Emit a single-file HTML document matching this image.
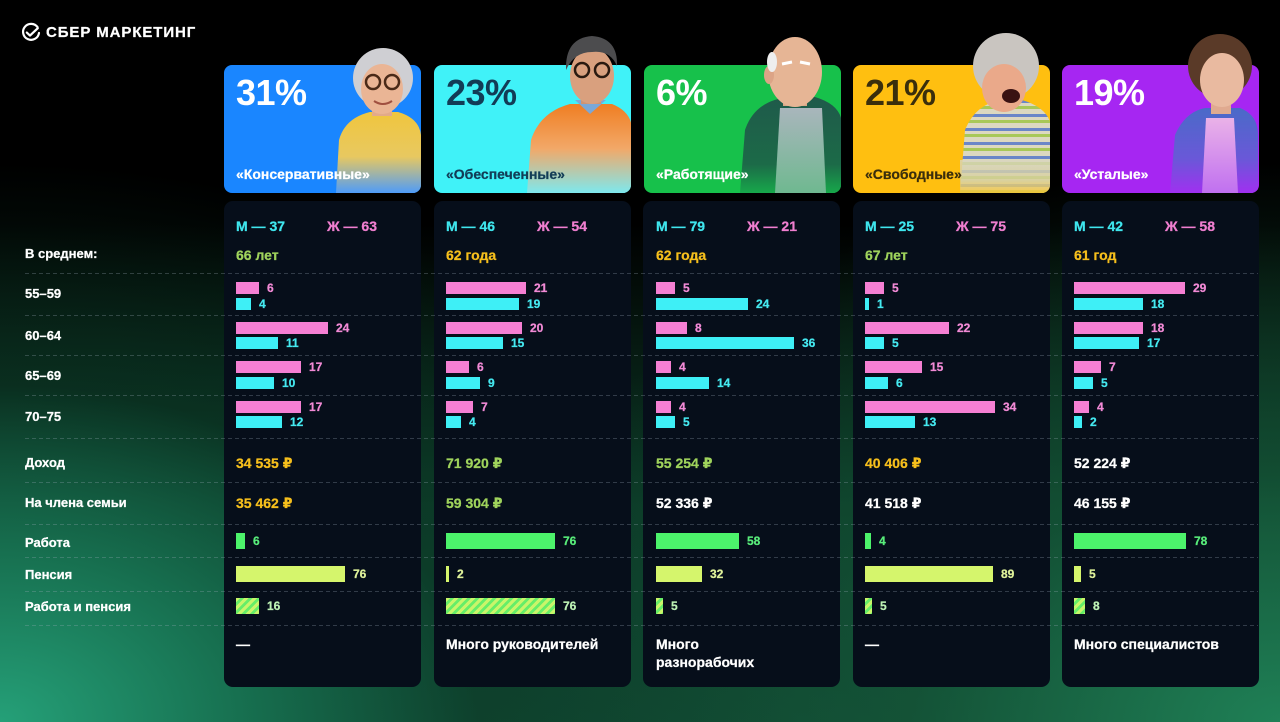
<!DOCTYPE html>
<html lang="ru"><head><meta charset="utf-8">
<style>
*{margin:0;padding:0;box-sizing:border-box}
html,body{width:1280px;height:722px;overflow:hidden}
body{position:relative;font-family:"Liberation Sans","DejaVu Sans",sans-serif;
background:
radial-gradient(ellipse 800px 560px at 0% 100%, #25a078 0%, #177050 30%, rgba(12,60,40,0.5) 60%, rgba(0,0,0,0) 100%),
radial-gradient(ellipse 820px 560px at 100% 100%, #1f8056 0%, rgba(22,90,58,0.65) 45%, rgba(0,0,0,0) 100%),
linear-gradient(to bottom, #000 0%, #000 31%, #05160f 46%, #0b3826 70%, #0f4430 100%);}
.t{position:absolute;font-weight:bold;white-space:nowrap;-webkit-text-stroke:0.25px currentColor}
.s14{font-size:14px;line-height:20px}
.s13{font-size:13px;line-height:18px;color:#fff}
.s12{font-size:12px;line-height:14px}
.dc{position:absolute;top:201px;width:197px;height:486px;background:#060e1a;border-radius:9px;}
.hc{position:absolute;top:65px;width:197px;height:128px;border-radius:8px;}
.b{position:absolute;height:12px}
.p{background:#f57fd3}.c{background:#3eeff6}
.pt{color:#f28ad6}.ct{color:#45e9f0}
.w{position:absolute;height:16px;background:#4cf36b;top:533px}
.pn{position:absolute;height:16px;background:#d5f56c;top:566px}
.cb{position:absolute;height:16px;top:598px;background:repeating-linear-gradient(135deg,#c9f56a 0 3px,#66ee68 3px 6px)}
.wt{color:#58ec7a}.pnt{color:#dff29a}.cbt{color:#bdf2b4}
.dl{position:absolute;left:25px;width:1233px;height:1px;background:repeating-linear-gradient(90deg,rgba(160,175,190,0.28) 0 4px,transparent 4px 7px);z-index:2}
.pc{position:absolute;top:73px;font-size:36px;line-height:40px;font-weight:bold;letter-spacing:-0.5px;z-index:4}
.nm{position:absolute;top:164px;font-size:14px;line-height:20px;font-weight:bold;z-index:4;-webkit-text-stroke:0.25px currentColor}
.or{color:#f6bf1c}.gr{color:#9fd35c}.wh{color:#fff}
.m{color:#3fe6ee}.f{color:#f07fd0}
</style></head><body>

<!-- logo -->
<svg style="position:absolute;left:20px;top:22px" width="22" height="22" viewBox="0 0 22 22">
<path d="M17.6 5.2 A8 8 0 1 0 19 11" fill="none" stroke="#fff" stroke-width="2.2" stroke-linecap="round"/>
<path d="M6.8 10.6 L10 13.6 L17.8 6.2" fill="none" stroke="#fff" stroke-width="2.2" stroke-linecap="round" stroke-linejoin="round"/>
</svg>
<div class="t" style="left:46px;top:23px;font-size:15px;line-height:20px;letter-spacing:0.9px;color:#fff">СБЕР МАРКЕТИНГ</div>

<!-- header cards -->
<div class="hc" style="left:224px;background:#1a86ff"></div>
<div class="hc" style="left:434px;background:#40f2f8"></div>
<div class="hc" style="left:644px;background:#17c14b"></div>
<div class="hc" style="left:853px;background:#ffbf10"></div>
<div class="hc" style="left:1062px;background:#a626f2"></div>

<!-- figures -->
<svg style="position:absolute;left:0;top:0;z-index:3" width="1280" height="722" viewBox="0 0 1280 722">
<defs>
<clipPath id="k1"><rect x="224" y="0" width="197" height="193" rx="8"/></clipPath>
<clipPath id="k2"><rect x="434" y="0" width="197" height="193" rx="8"/></clipPath>
<clipPath id="k3"><rect x="644" y="0" width="197" height="193" rx="8"/></clipPath>
<clipPath id="k4"><rect x="853" y="0" width="197" height="193" rx="8"/></clipPath>
<clipPath id="k5"><rect x="1062" y="0" width="197" height="193" rx="8"/></clipPath>
<linearGradient id="g1" x1="0" y1="0" x2="0" y2="1"><stop offset="0" stop-color="#f0c63e"/><stop offset="0.55" stop-color="#e8c860"/><stop offset="1" stop-color="#4f9cf8"/></linearGradient>
<linearGradient id="g2" x1="0" y1="0" x2="0" y2="1"><stop offset="0" stop-color="#f07e22"/><stop offset="0.5" stop-color="#f2a868"/><stop offset="1" stop-color="#7ee8ee"/></linearGradient>
<linearGradient id="g3" x1="0" y1="0" x2="0" y2="1"><stop offset="0" stop-color="#1f5a4a"/><stop offset="0.7" stop-color="#1c6a48"/><stop offset="1" stop-color="#17a84a"/></linearGradient>
<linearGradient id="g3s" x1="0" y1="0" x2="0" y2="1"><stop offset="0" stop-color="#a9b6bc"/><stop offset="1" stop-color="#6fb890"/></linearGradient>
<linearGradient id="g4" x1="0" y1="0" x2="0" y2="1"><stop offset="0" stop-color="#d9d6c0"/><stop offset="0.6" stop-color="#d8d09a"/><stop offset="1" stop-color="#fcc630"/></linearGradient>
<linearGradient id="g5" x1="0" y1="0" x2="0" y2="1"><stop offset="0" stop-color="#4a6ac8"/><stop offset="0.6" stop-color="#6a58d8"/><stop offset="1" stop-color="#a030f0"/></linearGradient>
<linearGradient id="g5s" x1="0" y1="0" x2="0" y2="1"><stop offset="0" stop-color="#eab2e8"/><stop offset="1" stop-color="#c070f0"/></linearGradient>
<pattern id="st4" x="0" y="0" width="20" height="14" patternUnits="userSpaceOnUse">
<rect width="20" height="14" fill="#dcd8c0"/><rect y="2" width="20" height="3" fill="#6a86c8"/><rect y="8" width="20" height="3" fill="#a8c858"/></pattern>
</defs>
<g clip-path="url(#k1)">
<path d="M336 193 L339 140 Q345 118 370 112 L398 112 Q419 118 421 135 L421 193 Z" fill="url(#g1)"/>
<rect x="372" y="102" width="20" height="14" fill="#e2aa8a"/>
<circle cx="383" cy="78" r="30" fill="#cfcfd3"/>
<ellipse cx="382" cy="89" rx="21" ry="25" fill="#eab595"/>
<circle cx="373" cy="82" r="7" fill="none" stroke="#4a2a18" stroke-width="2.5"/>
<circle cx="392" cy="82" r="7" fill="none" stroke="#4a2a18" stroke-width="2.5"/>
<path d="M374 101 Q383 107 392 101" stroke="#a05040" stroke-width="2" fill="none"/>
</g>
<g clip-path="url(#k2)">
<path d="M527 193 L531 140 Q540 112 570 104 L612 104 Q632 112 632 130 L632 193 Z" fill="url(#g2)"/>
<path d="M575 100 L590 114 L606 100 Z" fill="#7aa8d8"/>
<rect x="581" y="92" width="20" height="12" fill="#cf9474"/>
<ellipse cx="592" cy="76" rx="22" ry="28" fill="#d9a07e"/>
<path d="M566 70 Q565 38 592 36 Q618 38 617 66 Q610 50 592 52 Q574 52 566 70 Z" fill="#4c4c4e"/>
<circle cx="582" cy="70" r="7" fill="none" stroke="#2a1a10" stroke-width="2.5"/>
<circle cx="602" cy="70" r="7" fill="none" stroke="#2a1a10" stroke-width="2.5"/>
</g>
<g clip-path="url(#k3)">
<path d="M740 193 L745 130 Q755 100 790 97 L815 97 Q842 105 842 125 L842 193 Z" fill="url(#g3)"/>
<path d="M775 193 L780 108 L822 108 L826 193 Z" fill="url(#g3s)"/>
<rect x="783" y="92" width="24" height="14" fill="#d8a888"/>
<ellipse cx="795" cy="72" rx="27" ry="35" fill="#e6b595"/>
<ellipse cx="769" cy="75" rx="5" ry="9" fill="#dca486"/>
<ellipse cx="772" cy="62" rx="5" ry="10" fill="#eeeeee"/>
<path d="M782 64 L792 62 M800 62 L810 64" stroke="#fff" stroke-width="3"/>
</g>
<g clip-path="url(#k4)">
<path d="M960 193 L965 130 Q975 105 1000 100 L1022 100 Q1050 108 1052 130 L1052 193 Z" fill="url(#st4)"/>
<rect x="960" y="160" width="92" height="33" fill="url(#g4)" opacity="0.8"/>
<rect x="993" y="96" width="22" height="12" fill="#e0a080"/>
<circle cx="1006" cy="66" r="33" fill="#c9c5c0"/>
<ellipse cx="1004" cy="88" rx="22" ry="24" fill="#eaa98a"/>
<ellipse cx="1011" cy="96" rx="9" ry="7" fill="#3a1212"/>
</g>
<g clip-path="url(#k5)">
<path d="M1170 193 L1175 135 Q1185 112 1205 108 L1240 108 Q1258 115 1258 135 L1258 193 Z" fill="url(#g5)"/>
<path d="M1202 193 L1206 118 L1234 118 L1238 193 Z" fill="url(#g5s)"/>
<rect x="1211" y="98" width="20" height="16" fill="#e0aa90"/>
<ellipse cx="1220" cy="66" rx="32" ry="32" fill="#5a3a28"/>
<ellipse cx="1222" cy="80" rx="22" ry="27" fill="#e9baa0"/>
</g>
</svg>

<div class="pc wh" style="left:236px">31%</div>
<div class="nm wh" style="left:236px">«Консервативные»</div>
<div class="pc" style="left:446px;color:#123c56">23%</div>
<div class="nm" style="left:446px;color:#123c56">«Обеспеченные»</div>
<div class="pc wh" style="left:656px">6%</div>
<div class="nm wh" style="left:656px">«Работящие»</div>
<div class="pc" style="left:865px;color:#3a2e0c">21%</div>
<div class="nm" style="left:865px;color:#3a2e0c">«Свободные»</div>
<div class="pc wh" style="left:1074px">19%</div>
<div class="nm wh" style="left:1074px">«Усталые»</div>

<!-- data cards -->
<div class="dc" style="left:224px"></div>
<div class="dc" style="left:434px"></div>
<div class="dc" style="left:643px"></div>
<div class="dc" style="left:853px"></div>
<div class="dc" style="left:1062px"></div>

<!-- dashed lines -->
<div class="dl" style="top:273px"></div>
<div class="dl" style="top:315px"></div>
<div class="dl" style="top:355px"></div>
<div class="dl" style="top:395px"></div>
<div class="dl" style="top:438px"></div>
<div class="dl" style="top:482px"></div>
<div class="dl" style="top:524px"></div>
<div class="dl" style="top:557px"></div>
<div class="dl" style="top:591px"></div>
<div class="dl" style="top:625px"></div>

<!-- left labels -->
<div class="t s13" style="left:25px;top:245px">В среднем:</div>
<div class="t s13" style="left:25px;top:285px">55–59</div>
<div class="t s13" style="left:25px;top:327px">60–64</div>
<div class="t s13" style="left:25px;top:367px">65–69</div>
<div class="t s13" style="left:25px;top:408px">70–75</div>
<div class="t s13" style="left:25px;top:454px">Доход</div>
<div class="t s13" style="left:25px;top:494px">На члена семьи</div>
<div class="t s13" style="left:25px;top:534px">Работа</div>
<div class="t s13" style="left:25px;top:566px">Пенсия</div>
<div class="t s13" style="left:25px;top:598px">Работа и пенсия</div>

<!-- Card 1 -->
<div class="t s14 m" style="left:236px;top:216px">М — 37</div>
<div class="t s14 f" style="left:327px;top:216px">Ж — 63</div>
<div class="t s14 gr" style="left:236px;top:245px">66 лет</div>
<div class="b p" style="left:236px;top:282px;width:23px"></div><div class="t s12 pt" style="left:267px;top:281px">6</div>
<div class="b c" style="left:236px;top:298px;width:15px"></div><div class="t s12 ct" style="left:259px;top:297px">4</div>
<div class="b p" style="left:236px;top:322px;width:92px"></div><div class="t s12 pt" style="left:336px;top:321px">24</div>
<div class="b c" style="left:236px;top:337px;width:42px"></div><div class="t s12 ct" style="left:286px;top:336px">11</div>
<div class="b p" style="left:236px;top:361px;width:65px"></div><div class="t s12 pt" style="left:309px;top:360px">17</div>
<div class="b c" style="left:236px;top:377px;width:38px"></div><div class="t s12 ct" style="left:282px;top:376px">10</div>
<div class="b p" style="left:236px;top:401px;width:65px"></div><div class="t s12 pt" style="left:309px;top:400px">17</div>
<div class="b c" style="left:236px;top:416px;width:46px"></div><div class="t s12 ct" style="left:290px;top:415px">12</div>
<div class="t s14 or" style="left:236px;top:453px">34 535 ₽</div>
<div class="t s14 or" style="left:236px;top:493px">35 462 ₽</div>
<div class="w" style="left:236px;width:9px"></div><div class="t s12 wt" style="left:253px;top:534px">6</div>
<div class="pn" style="left:236px;width:109px"></div><div class="t s12 pnt" style="left:353px;top:567px">76</div>
<div class="cb" style="left:236px;width:23px"></div><div class="t s12 cbt" style="left:267px;top:599px">16</div>
<div class="t s14 wh" style="left:236px;top:634px">—</div>

<!-- Card 2 -->
<div class="t s14 m" style="left:446px;top:216px">М — 46</div>
<div class="t s14 f" style="left:537px;top:216px">Ж — 54</div>
<div class="t s14 or" style="left:446px;top:245px">62 года</div>
<div class="b p" style="left:446px;top:282px;width:80px"></div><div class="t s12 pt" style="left:534px;top:281px">21</div>
<div class="b c" style="left:446px;top:298px;width:73px"></div><div class="t s12 ct" style="left:527px;top:297px">19</div>
<div class="b p" style="left:446px;top:322px;width:76px"></div><div class="t s12 pt" style="left:530px;top:321px">20</div>
<div class="b c" style="left:446px;top:337px;width:57px"></div><div class="t s12 ct" style="left:511px;top:336px">15</div>
<div class="b p" style="left:446px;top:361px;width:23px"></div><div class="t s12 pt" style="left:477px;top:360px">6</div>
<div class="b c" style="left:446px;top:377px;width:34px"></div><div class="t s12 ct" style="left:488px;top:376px">9</div>
<div class="b p" style="left:446px;top:401px;width:27px"></div><div class="t s12 pt" style="left:481px;top:400px">7</div>
<div class="b c" style="left:446px;top:416px;width:15px"></div><div class="t s12 ct" style="left:469px;top:415px">4</div>
<div class="t s14 gr" style="left:446px;top:453px">71 920 ₽</div>
<div class="t s14 gr" style="left:446px;top:493px">59 304 ₽</div>
<div class="w" style="left:446px;width:109px"></div><div class="t s12 wt" style="left:563px;top:534px">76</div>
<div class="pn" style="left:446px;width:3px"></div><div class="t s12 pnt" style="left:457px;top:567px">2</div>
<div class="cb" style="left:446px;width:109px"></div><div class="t s12 cbt" style="left:563px;top:599px">76</div>
<div class="t s14 wh" style="left:446px;top:634px">Много руководителей</div>

<!-- Card 3 -->
<div class="t s14 m" style="left:656px;top:216px">М — 79</div>
<div class="t s14 f" style="left:747px;top:216px">Ж — 21</div>
<div class="t s14 or" style="left:656px;top:245px">62 года</div>
<div class="b p" style="left:656px;top:282px;width:19px"></div><div class="t s12 pt" style="left:683px;top:281px">5</div>
<div class="b c" style="left:656px;top:298px;width:92px"></div><div class="t s12 ct" style="left:756px;top:297px">24</div>
<div class="b p" style="left:656px;top:322px;width:31px"></div><div class="t s12 pt" style="left:695px;top:321px">8</div>
<div class="b c" style="left:656px;top:337px;width:138px"></div><div class="t s12 ct" style="left:802px;top:336px">36</div>
<div class="b p" style="left:656px;top:361px;width:15px"></div><div class="t s12 pt" style="left:679px;top:360px">4</div>
<div class="b c" style="left:656px;top:377px;width:53px"></div><div class="t s12 ct" style="left:717px;top:376px">14</div>
<div class="b p" style="left:656px;top:401px;width:15px"></div><div class="t s12 pt" style="left:679px;top:400px">4</div>
<div class="b c" style="left:656px;top:416px;width:19px"></div><div class="t s12 ct" style="left:683px;top:415px">5</div>
<div class="t s14 gr" style="left:656px;top:453px">55 254 ₽</div>
<div class="t s14 wh" style="left:656px;top:493px">52 336 ₽</div>
<div class="w" style="left:656px;width:83px"></div><div class="t s12 wt" style="left:747px;top:534px">58</div>
<div class="pn" style="left:656px;width:46px"></div><div class="t s12 pnt" style="left:710px;top:567px">32</div>
<div class="cb" style="left:656px;width:7px"></div><div class="t s12 cbt" style="left:671px;top:599px">5</div>
<div class="t s14 wh" style="left:656px;top:634px">Много</div>
<div class="t s14 wh" style="left:656px;top:652px">разнорабочих</div>

<!-- Card 4 -->
<div class="t s14 m" style="left:865px;top:216px">М — 25</div>
<div class="t s14 f" style="left:956px;top:216px">Ж — 75</div>
<div class="t s14 gr" style="left:865px;top:245px">67 лет</div>
<div class="b p" style="left:865px;top:282px;width:19px"></div><div class="t s12 pt" style="left:892px;top:281px">5</div>
<div class="b c" style="left:865px;top:298px;width:4px"></div><div class="t s12 ct" style="left:877px;top:297px">1</div>
<div class="b p" style="left:865px;top:322px;width:84px"></div><div class="t s12 pt" style="left:957px;top:321px">22</div>
<div class="b c" style="left:865px;top:337px;width:19px"></div><div class="t s12 ct" style="left:892px;top:336px">5</div>
<div class="b p" style="left:865px;top:361px;width:57px"></div><div class="t s12 pt" style="left:930px;top:360px">15</div>
<div class="b c" style="left:865px;top:377px;width:23px"></div><div class="t s12 ct" style="left:896px;top:376px">6</div>
<div class="b p" style="left:865px;top:401px;width:130px"></div><div class="t s12 pt" style="left:1003px;top:400px">34</div>
<div class="b c" style="left:865px;top:416px;width:50px"></div><div class="t s12 ct" style="left:923px;top:415px">13</div>
<div class="t s14 or" style="left:865px;top:453px">40 406 ₽</div>
<div class="t s14 wh" style="left:865px;top:493px">41 518 ₽</div>
<div class="w" style="left:865px;width:6px"></div><div class="t s12 wt" style="left:879px;top:534px">4</div>
<div class="pn" style="left:865px;width:128px"></div><div class="t s12 pnt" style="left:1001px;top:567px">89</div>
<div class="cb" style="left:865px;width:7px"></div><div class="t s12 cbt" style="left:880px;top:599px">5</div>
<div class="t s14 wh" style="left:865px;top:634px">—</div>

<!-- Card 5 -->
<div class="t s14 m" style="left:1074px;top:216px">М — 42</div>
<div class="t s14 f" style="left:1165px;top:216px">Ж — 58</div>
<div class="t s14 or" style="left:1074px;top:245px">61 год</div>
<div class="b p" style="left:1074px;top:282px;width:111px"></div><div class="t s12 pt" style="left:1193px;top:281px">29</div>
<div class="b c" style="left:1074px;top:298px;width:69px"></div><div class="t s12 ct" style="left:1151px;top:297px">18</div>
<div class="b p" style="left:1074px;top:322px;width:69px"></div><div class="t s12 pt" style="left:1151px;top:321px">18</div>
<div class="b c" style="left:1074px;top:337px;width:65px"></div><div class="t s12 ct" style="left:1147px;top:336px">17</div>
<div class="b p" style="left:1074px;top:361px;width:27px"></div><div class="t s12 pt" style="left:1109px;top:360px">7</div>
<div class="b c" style="left:1074px;top:377px;width:19px"></div><div class="t s12 ct" style="left:1101px;top:376px">5</div>
<div class="b p" style="left:1074px;top:401px;width:15px"></div><div class="t s12 pt" style="left:1097px;top:400px">4</div>
<div class="b c" style="left:1074px;top:416px;width:8px"></div><div class="t s12 ct" style="left:1090px;top:415px">2</div>
<div class="t s14 wh" style="left:1074px;top:453px">52 224 ₽</div>
<div class="t s14 wh" style="left:1074px;top:493px">46 155 ₽</div>
<div class="w" style="left:1074px;width:112px"></div><div class="t s12 wt" style="left:1194px;top:534px">78</div>
<div class="pn" style="left:1074px;width:7px"></div><div class="t s12 pnt" style="left:1089px;top:567px">5</div>
<div class="cb" style="left:1074px;width:11px"></div><div class="t s12 cbt" style="left:1093px;top:599px">8</div>
<div class="t s14 wh" style="left:1074px;top:634px">Много специалистов</div>

</body></html>
